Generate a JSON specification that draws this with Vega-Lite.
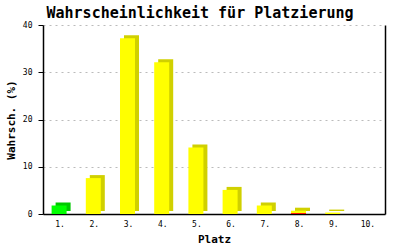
{
  "$schema": "https://vega.github.io/schema/vega-lite/v6.json",
  "width": 342,
  "height": 189,
  "autosize": {"type": "none"},
  "padding": {"left": 43, "top": 25, "right": 15, "bottom": 36},
  "background": "white",
  "config": {
    "view": {"stroke": null},
    "font": "DejaVu Sans Mono"
  },
  "title": {
    "text": "Wahrscheinlichkeit für Platzierung",
    "font": "DejaVu Sans Mono",
    "fontSize": 15,
    "fontWeight": "bold",
    "color": "black",
    "anchor": "middle",
    "dx": -14,
    "offset": 0
  },
  "data": {
    "values": [
      {"platz": "1.", "gruppe": "gruen", "teil": "gruen", "wert": 1.8},
      {"platz": "2.", "gruppe": "gelb", "teil": "gelb", "wert": 7.6},
      {"platz": "3.", "gruppe": "gelb", "teil": "gelb", "wert": 37.2},
      {"platz": "4.", "gruppe": "gelb", "teil": "gelb", "wert": 32.1},
      {"platz": "5.", "gruppe": "gelb", "teil": "gelb", "wert": 14.1},
      {"platz": "6.", "gruppe": "gelb", "teil": "gelb", "wert": 5.1},
      {"platz": "7.", "gruppe": "gelb", "teil": "gelb", "wert": 1.8},
      {"platz": "8.", "gruppe": "gelb", "teil": "rot", "wert": 0.2},
      {"platz": "8.", "gruppe": "gelb", "teil": "gelb", "wert": 0.5},
      {"platz": "9.", "gruppe": "gelb", "teil": "gelb", "wert": 0.3},
      {"platz": "10.", "gruppe": "gelb", "teil": "gelb", "wert": 0}
    ]
  },
  "encoding": {
    "x": {
      "field": "platz",
      "type": "ordinal",
      "sort": null,
      "scale": {"paddingInner": 0, "paddingOuter": 0},
      "axis": {
        "title": "Platz",
        "titleFont": "DejaVu Sans Mono",
        "titleFontSize": 11,
        "titleFontWeight": "bold",
        "titleColor": "black",
        "titlePadding": 5,
        "labelAngle": 0,
        "labelFont": "DejaVu Sans Mono",
        "labelFontSize": 8,
        "labelColor": "black",
        "labelPadding": 6,
        "ticks": false,
        "domainColor": "black",
        "domainWidth": 1.5
      }
    }
  },
  "layer": [
    {
      "mark": {"type": "bar", "width": 15, "xOffset": 3, "yOffset": -3, "y2Offset": 0},
      "encoding": {
        "y": {
          "aggregate": "sum",
          "field": "wert",
          "type": "quantitative",
          "scale": {"domain": [0, 40]},
          "axis": {
            "orient": "left",
            "title": "Wahrsch. (%)",
            "titleFont": "DejaVu Sans Mono",
            "titleFontSize": 11,
            "titleFontWeight": "bold",
            "titleColor": "black",
            "titlePadding": 6,
            "values": [0, 10, 20, 30, 40],
            "labelFont": "DejaVu Sans Mono",
            "labelFontSize": 8,
            "labelColor": "black",
            "labelPadding": 6,
            "tickColor": "black",
            "tickSize": 5,
            "domainColor": "black",
            "domainWidth": 1.5,
            "grid": true,
            "gridColor": "#bbbbbb",
            "gridDash": [2, 4],
            "gridWidth": 1
          }
        },
        "color": {
          "field": "gruppe",
          "type": "nominal",
          "scale": {"domain": ["gruen", "gelb"], "range": ["#00c800", "#d0d000"]},
          "legend": null
        }
      }
    },
    {
      "mark": {"type": "bar", "width": 15, "xOffset": -1},
      "encoding": {
        "y": {
          "field": "wert",
          "type": "quantitative",
          "stack": "zero",
          "scale": {"domain": [0, 40]},
          "axis": {
            "orient": "right",
            "title": null,
            "labels": false,
            "ticks": false,
            "grid": false,
            "domainColor": "black",
            "domainWidth": 1.5
          }
        },
        "color": {
          "field": "teil",
          "type": "nominal",
          "scale": {"domain": ["gruen", "gelb", "rot"], "range": ["#00ff00", "#ffff00", "#ff0000"]},
          "legend": null
        },
        "order": {"field": "teil", "sort": "descending"}
      }
    }
  ],
  "resolve": {"scale": {"color": "independent"}, "axis": {"y": "independent"}}
}
